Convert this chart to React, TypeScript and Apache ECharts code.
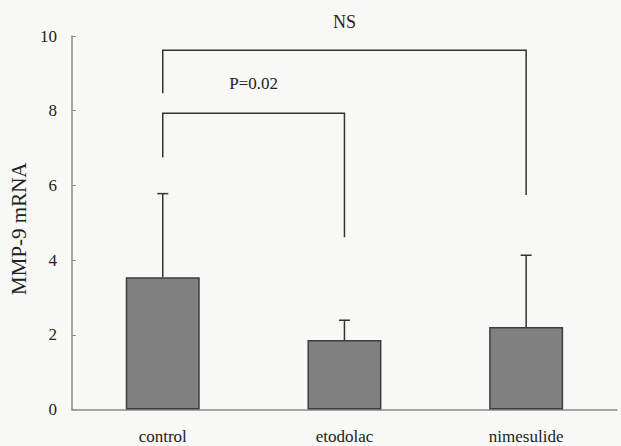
import React, { useEffect, useRef } from "react";
import * as echarts from "echarts";

// Group names and measured expression
const categories = ["control", "etodolac", "nimesulide"];
const meanValues = [3.54, 1.86, 2.21];
const sdValues = [2.24, 0.53, 1.92];
const yTicks = [0, 2, 4, 6, 8, 10];

// Significance brackets: [fromIndex, toIndex, top, leftEnd, rightEnd]
const brackets = [
  [0, 2, 9.62, 8.47, 5.74],
  [0, 1, 7.93, 6.75, 4.61],
];
const bracketLabels = ["NS", "P=0.02"];
const bracketLabelY = [10.37, 8.73];

const FONT = "'Liberation Serif', 'DejaVu Serif', serif";
const INK = "#222";

export default function App() {
  const ref = useRef<HTMLDivElement>(null);

  useEffect(() => {
    if (!ref.current) return;
    const chart = echarts.init(ref.current, undefined, { renderer: "svg" });

    const errorData = meanValues.map((m, i) => [i, m, m + sdValues[i]]);
    const bracketData = brackets.map((b, i) => [...b, bracketLabelY[i], i]);

    chart.setOption({
      animation: false,
      backgroundColor: "#f8f8f6",
      grid: { left: 70, right: 4, top: 36, bottom: 36.5 },
      xAxis: {
        type: "category",
        data: categories,
        axisLine: { lineStyle: { color: "#8a8a8a", width: 1.5 } },
        axisTick: { show: false },
        axisLabel: {
          fontFamily: FONT,
          fontSize: 17,
          color: INK,
          margin: 18,
        },
      },
      yAxis: {
        type: "value",
        min: 0,
        max: 10,
        interval: 2,
        name: "MMP-9 mRNA",
        nameLocation: "middle",
        nameGap: 36,
        nameTextStyle: {
          fontFamily: FONT,
          fontSize: 21,
          color: INK,
          padding: [0, 0, 0, -12],
        },
        splitLine: { show: false },
        axisLine: { show: true, lineStyle: { color: "#8a8a8a", width: 1.5 } },
        axisTick: {
          show: true,
          inside: true,
          length: 4,
          lineStyle: { color: "#8a8a8a" },
        },
        axisLabel: {
          fontFamily: FONT,
          fontSize: 17,
          color: INK,
          margin: 15,
          formatter: (v: number) => (yTicks.includes(v) ? String(v) : ""),
        },
      },
      series: [
        {
          type: "bar",
          data: meanValues,
          barWidth: 74,
          itemStyle: {
            color: "#808080",
            borderColor: "#3e3e3e",
            borderWidth: 1.5,
          },
          z: 2,
        },
        {
          type: "custom",
          data: errorData,
          z: 3,
          renderItem: (params: any, api: any) => {
            const i = api.value(0);
            const base = api.coord([i, api.value(1)]);
            const top = api.coord([i, api.value(2)]);
            const cap = 5.5;
            const style = { stroke: "#333", lineWidth: 1.5 };
            return {
              type: "group",
              children: [
                {
                  type: "line",
                  shape: { x1: base[0], y1: base[1], x2: top[0], y2: top[1] },
                  style,
                },
                {
                  type: "line",
                  shape: { x1: top[0] - cap, y1: top[1], x2: top[0] + cap, y2: top[1] },
                  style,
                },
              ],
            };
          },
        },
        {
          type: "custom",
          data: bracketData,
          z: 3,
          renderItem: (params: any, api: any) => {
            const a = api.value(0);
            const b = api.value(1);
            const pTopL = api.coord([a, api.value(2)]);
            const pTopR = api.coord([b, api.value(2)]);
            const pEndL = api.coord([a, api.value(3)]);
            const pEndR = api.coord([b, api.value(4)]);
            const pLabel = api.coord([a, api.value(5)]);
            const idx = api.value(6);
            return {
              type: "group",
              children: [
                {
                  type: "polyline",
                  shape: {
                    points: [
                      [pEndL[0], pEndL[1]],
                      [pTopL[0], pTopL[1]],
                      [pTopR[0], pTopR[1]],
                      [pEndR[0], pEndR[1]],
                    ],
                  },
                  style: { stroke: "#333", lineWidth: 1.5, fill: "none" },
                },
                {
                  type: "text",
                  x: (pTopL[0] + pTopR[0]) / 2,
                  y: pLabel[1],
                  style: {
                    text: bracketLabels[idx],
                    fontFamily: FONT,
                    fontSize: idx === 0 ? 18 : 17,
                    fill: INK,
                    align: "center",
                    verticalAlign: "middle",
                  },
                },
              ],
            };
          },
        },
      ],
    });

    return () => chart.dispose();
  }, []);

  return (
    <div
      ref={ref}
      style={{ position: "absolute", left: 0, top: 0, width: 621, height: 446 }}
    />
  );
}
